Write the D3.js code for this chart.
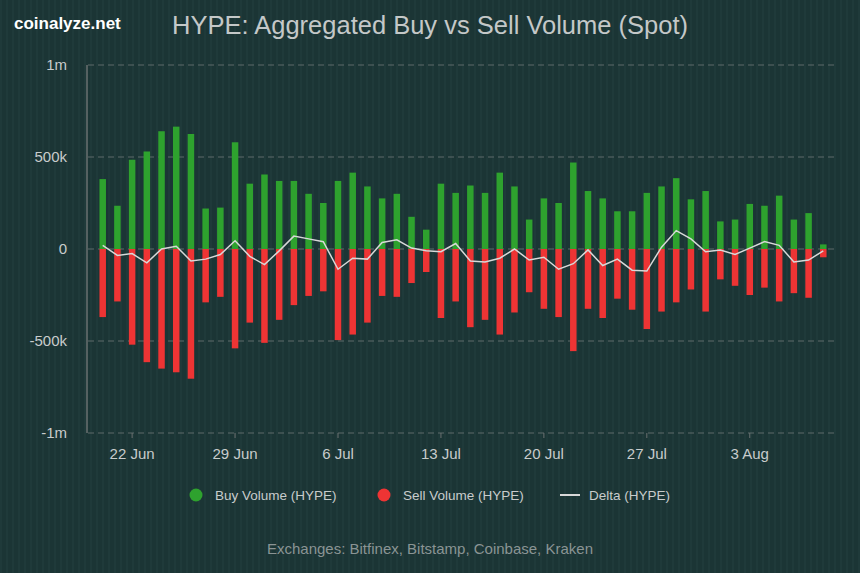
<!DOCTYPE html><html><head><meta charset="utf-8"><script src="https://cdn.jsdelivr.net/npm/d3@7"></script>
<style>body{margin:0;background:#1a3433;}svg{display:block}</style></head><body><svg id="c" width="860" height="573"></svg>
<script>
const startDate = "2025-06-20";
const buy = [380,235,485,530,640,665,625,220,225,580,355,405,370,370,300,250,370,415,340,275,300,175,105,355,305,345,305,415,340,160,275,250,470,315,275,205,205,305,340,385,270,315,150,160,245,235,290,160,195,25];
const sell = [-370,-285,-520,-615,-650,-670,-705,-290,-260,-540,-400,-510,-385,-305,-255,-230,-495,-465,-400,-255,-260,-185,-125,-375,-285,-425,-385,-465,-345,-235,-325,-370,-555,-325,-375,-270,-330,-435,-340,-290,-220,-340,-165,-200,-250,-210,-285,-240,-265,-45];
const delta = [20,-35,-25,-75,0,15,-65,-55,-30,45,-40,-85,-10,70,55,40,-110,-50,-55,35,50,5,-10,-15,30,-65,-70,-50,0,-60,-45,-110,-80,-5,-90,-55,-115,-120,10,100,55,-15,-5,-30,5,40,20,-70,-60,-10];
const yTicks = [1000,500,0,-500,-1000];
const yLabels = ["1m","500k","0","-500k","-1m"];
const xTickDates = ["2025-06-22","2025-06-29","2025-07-06","2025-07-13","2025-07-20","2025-07-27","2025-08-03"];
const xTickLabels = ["22 Jun","29 Jun","6 Jul","13 Jul","20 Jul","27 Jul","3 Aug"];

const svg = d3.select("#c");
const defs = svg.append("defs");
const p = defs.append("pattern").attr("id","st").attr("width",6).attr("height",6).attr("patternUnits","userSpaceOnUse");
p.append("rect").attr("width",6).attr("height",6).attr("fill","#1b3535");
p.append("rect").attr("width",2).attr("height",6).attr("fill","#1f3a3a");
svg.append("rect").attr("width",860).attr("height",573).attr("fill","url(#st)");

const parse = d3.utcParse("%Y-%m-%d");
const d0 = parse(startDate);
const dates = buy.map((_,i)=>d3.utcDay.offset(d0,i));
const x = d3.scaleUtc().domain([d3.utcDay.offset(d0,-0.9), d3.utcDay.offset(d0,50.3)]).range([88,838]);
const y = d3.scaleLinear().domain([-1000,1000]).range([433,65]);
const bw = 6.5;
const F = "Liberation Sans, Arial";

const g = svg.append("g");
yTicks.forEach((t,i)=>{
  g.append("line").attr("x1",88).attr("x2",838).attr("y1",y(t)).attr("y2",y(t))
   .attr("stroke","#5f6a6a").attr("stroke-width",1.2).attr("stroke-dasharray","6,4");
  g.append("text").attr("x",67).attr("y",y(t)+5).attr("text-anchor","end").attr("fill","#c8cccc")
   .attr("font-family",F).attr("font-size",15).text(yLabels[i]);
});
g.append("line").attr("x1",87).attr("x2",87).attr("y1",65).attr("y2",433).attr("stroke","#6a7070").attr("stroke-width",1.5);

g.selectAll(".b").data(buy).join("rect").attr("x",(d,i)=>x(dates[i])-bw/2).attr("width",bw)
 .attr("y",d=>y(d)).attr("height",d=>y(0)-y(d)).attr("fill","#2ea22e");
g.selectAll(".s").data(sell).join("rect").attr("x",(d,i)=>x(dates[i])-bw/2).attr("width",bw)
 .attr("y",y(0)).attr("height",d=>y(d)-y(0)).attr("fill","#ee3434");
g.append("path").datum(delta).attr("fill","none").attr("stroke","#d8d8d8").attr("stroke-width",1.5)
 .attr("d",d3.line().x((d,i)=>x(dates[i])).y(d=>y(d)));

xTickDates.forEach((s,i)=>{
  const xx = x(parse(s));
  g.append("line").attr("x1",xx).attr("x2",xx).attr("y1",433).attr("y2",438).attr("stroke","#6a7070");
  g.append("text").attr("x",xx).attr("y",459).attr("text-anchor","middle").attr("fill","#c8cccc")
   .attr("font-family",F).attr("font-size",15).text(xTickLabels[i]);
});

svg.append("text").attr("x",430).attr("y",34).attr("text-anchor","middle").attr("fill","#c4c8c8")
 .attr("font-family",F).attr("font-size",25.5).text("HYPE: Aggregated Buy vs Sell Volume (Spot)");
svg.append("text").attr("x",14).attr("y",29).attr("fill","#ffffff").attr("font-weight","bold")
 .attr("font-family",F).attr("font-size",17).text("coinalyze.net");

const leg = [["Buy Volume (HYPE)","#2ea22e",196,"c"],["Sell Volume (HYPE)","#ee3434",384,"c"],["Delta (HYPE)","#d8d8d8",570,"l"]];
leg.forEach(l=>{
  if(l[3]==="c") svg.append("circle").attr("cx",l[2]).attr("cy",495).attr("r",6.5).attr("fill",l[1]);
  else svg.append("line").attr("x1",l[2]-10).attr("x2",l[2]+10).attr("y1",495).attr("y2",495).attr("stroke",l[1]).attr("stroke-width",2);
  svg.append("text").attr("x",l[2]+19).attr("y",500).attr("fill","#c8cccc")
   .attr("font-family",F).attr("font-size",13.5).text(l[0]);
});
svg.append("text").attr("x",430).attr("y",554).attr("text-anchor","middle").attr("fill","#8a9494")
 .attr("font-family",F).attr("font-size",15).text("Exchanges: Bitfinex, Bitstamp, Coinbase, Kraken");
</script></body></html>
